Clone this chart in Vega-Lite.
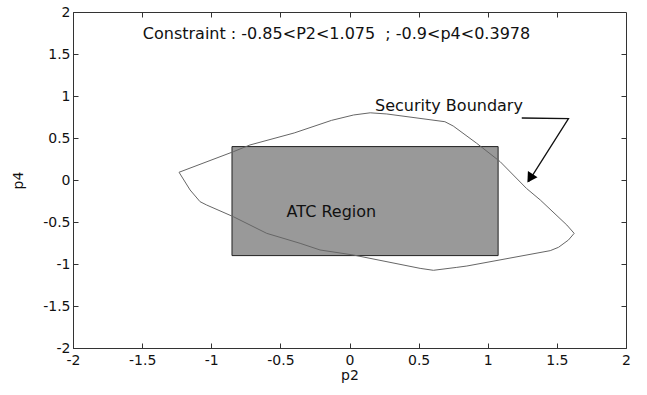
{
  "$schema": "https://vega.github.io/schema/vega-lite/v6.json",
  "width": 553,
  "height": 336,
  "autosize": "none",
  "padding": {"left": 73, "top": 12, "right": 21, "bottom": 47},
  "background": "white",
  "config": {
    "view": {"stroke": "#333333", "strokeWidth": 1},
    "font": "DejaVu Sans",
    "axis": {
      "grid": false,
      "domainColor": "#333333",
      "tickColor": "#333333",
      "tickSize": -5,
      "labelFont": "DejaVu Sans",
      "labelFontSize": 14,
      "labelColor": "#111111",
      "titleFont": "DejaVu Sans",
      "titleFontSize": 14,
      "titleFontWeight": "normal",
      "titleColor": "#111111",
      "labelFlush": false,
      "labelOverlap": false,
      "labelExpr": "toString(datum.value)"
    }
  },
  "datasets": {
    "boundary": [
      {"p2": -1.233, "p4": 0.092, "ord": 1},
      {"p2": -0.84, "p4": 0.337, "ord": 2},
      {"p2": -0.72, "p4": 0.417, "ord": 3},
      {"p2": -0.40, "p4": 0.56, "ord": 4},
      {"p2": -0.13, "p4": 0.71, "ord": 5},
      {"p2": 0.03, "p4": 0.774, "ord": 6},
      {"p2": 0.15, "p4": 0.80, "ord": 7},
      {"p2": 0.27, "p4": 0.786, "ord": 8},
      {"p2": 0.69, "p4": 0.694, "ord": 9},
      {"p2": 0.75, "p4": 0.643, "ord": 10},
      {"p2": 0.92, "p4": 0.437, "ord": 11},
      {"p2": 1.09, "p4": 0.218, "ord": 12},
      {"p2": 1.28, "p4": -0.10, "ord": 13},
      {"p2": 1.38, "p4": -0.238, "ord": 14},
      {"p2": 1.572, "p4": -0.536, "ord": 15},
      {"p2": 1.625, "p4": -0.635, "ord": 16},
      {"p2": 1.584, "p4": -0.714, "ord": 17},
      {"p2": 1.512, "p4": -0.801, "ord": 18},
      {"p2": 1.452, "p4": -0.841, "ord": 19},
      {"p2": 0.849, "p4": -1.024, "ord": 20},
      {"p2": 0.776, "p4": -1.040, "ord": 21},
      {"p2": 0.607, "p4": -1.075, "ord": 22},
      {"p2": 0.511, "p4": -1.052, "ord": 23},
      {"p2": 0.028, "p4": -0.893, "ord": 24},
      {"p2": -0.213, "p4": -0.833, "ord": 25},
      {"p2": -0.357, "p4": -0.754, "ord": 26},
      {"p2": -0.599, "p4": -0.635, "ord": 27},
      {"p2": -0.84, "p4": -0.437, "ord": 28},
      {"p2": -1.033, "p4": -0.298, "ord": 29},
      {"p2": -1.081, "p4": -0.258, "ord": 30},
      {"p2": -1.153, "p4": -0.119, "ord": 31},
      {"p2": -1.233, "p4": 0.092, "ord": 32}
    ],
    "region": [
      {"p2min": -0.85, "p2max": 1.075, "p4min": -0.9, "p4max": 0.3978}
    ],
    "labels": [
      {"p2": -1.495, "p4": 1.735, "label": "Constraint : -0.85<P2<1.075 \u00a0; -0.9<p4<0.3978"},
      {"p2": 0.185, "p4": 0.885, "label": "Security Boundary"},
      {"p2": -0.455, "p4": -0.38, "label": "ATC Region"}
    ],
    "arrow": [
      {"p2": 1.246, "p4": 0.738, "ord": 1},
      {"p2": 1.584, "p4": 0.73, "ord": 2},
      {"p2": 1.295, "p4": -0.02, "ord": 3}
    ],
    "arrowhead": [
      {"p2": 1.306, "p4": 0.021}
    ]
  },
  "layer": [
    {
      "data": {"name": "region"},
      "mark": {"type": "rect", "fill": "#999999", "stroke": "#222222", "strokeWidth": 1},
      "encoding": {
        "x": {"field": "p2min", "type": "quantitative", "scale": {"domain": [-2, 2], "nice": false, "zero": false},
              "axis": {"orient": "bottom", "title": "p2", "values": [-2, -1.5, -1, -0.5, 0, 0.5, 1, 1.5, 2], "labelPadding": 10, "titlePadding": 1}},
        "x2": {"field": "p2max"},
        "y": {"field": "p4min", "type": "quantitative", "scale": {"domain": [-2, 2], "nice": false, "zero": false},
              "axis": {"orient": "left", "title": "p4", "values": [-2, -1.5, -1, -0.5, 0, 0.5, 1, 1.5, 2], "labelPadding": 8, "titlePadding": 17}},
        "y2": {"field": "p4max"}
      }
    },
    {
      "data": {"name": "boundary"},
      "mark": {"type": "line", "color": "#666666", "strokeWidth": 1},
      "encoding": {
        "x": {"field": "p2", "type": "quantitative", "axis": {"orient": "top", "title": null, "labels": false, "domain": false, "values": [-1.5, -1, -0.5, 0, 0.5, 1, 1.5]}},
        "y": {"field": "p4", "type": "quantitative", "axis": {"orient": "right", "title": null, "labels": false, "domain": false, "values": [-1.5, -1, -0.5, 0, 0.5, 1, 1.5]}},
        "order": {"field": "ord"}
      }
    },
    {
      "data": {"name": "arrow"},
      "mark": {"type": "line", "color": "#111111", "strokeWidth": 1.3},
      "encoding": {
        "x": {"field": "p2", "type": "quantitative", "axis": null},
        "y": {"field": "p4", "type": "quantitative", "axis": null},
        "order": {"field": "ord"}
      }
    },
    {
      "data": {"name": "arrowhead"},
      "mark": {"type": "point", "shape": "triangle-down", "filled": true, "color": "#000000", "opacity": 1, "size": 130, "angle": 32.6},
      "encoding": {
        "x": {"field": "p2", "type": "quantitative", "axis": null},
        "y": {"field": "p4", "type": "quantitative", "axis": null}
      }
    },
    {
      "data": {"name": "labels"},
      "mark": {"type": "text", "align": "left", "baseline": "middle", "font": "DejaVu Sans", "fontSize": 16, "color": "#111111"},
      "encoding": {
        "x": {"field": "p2", "type": "quantitative", "axis": null},
        "y": {"field": "p4", "type": "quantitative", "axis": null},
        "text": {"field": "label"}
      }
    }
  ]
}
